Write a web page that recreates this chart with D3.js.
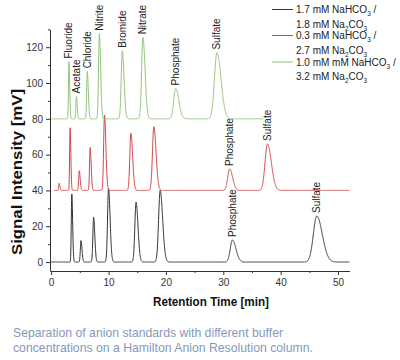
<!DOCTYPE html>
<html>
<head>
<meta charset="utf-8">
<script src="https://cdn.jsdelivr.net/npm/d3@7"></script>
<style>
  body { margin: 0; background: #fff; }
  svg { display: block; font-family: "Liberation Sans", Arial, sans-serif; }
</style>
</head>
<body>
<svg id="chart" width="400" height="360"></svg>
<script>
// peak tables (retention time [min], height [mV], width [min])
const blackTimes   = [3.6, 5.2, 7.4, 10.0, 14.8, 19.0, 31.6, 46.3];
const blackHeights = [38, 12, 25, 41, 33.5, 40, 12.3, 25.7];
const blackWidths  = [0.09, 0.11, 0.13, 0.17, 0.21, 0.27, 0.38, 0.6];

const redTimes   = [1.4, 3.3, 4.9, 6.8, 9.3, 13.9, 17.9, 31.1, 37.7];
const redHeights = [4, 35, 11, 24, 42, 32, 35.6, 12, 26];
const redWidths  = [0.08, 0.08, 0.1, 0.11, 0.15, 0.19, 0.24, 0.33, 0.42];

const greenTimes   = [3.1, 4.4, 6.3, 8.4, 12.4, 16.0, 21.7, 28.9];
const greenHeights = [32, 12.5, 26.5, 47.5, 38, 45.5, 17, 37];
const greenWidths  = [0.08, 0.09, 0.11, 0.14, 0.19, 0.23, 0.34, 0.44];

const baselines = [0, 40, 80];
const runStart  = [0, 0.5, 0];
const runEnd    = [52, 52, 37];

const greenLabels = ['Fluoride', 'Acetate', 'Chloride', 'Nitrite', 'Bromide', 'Nitrate', 'Phosphate', 'Sulfate'];
const redLabels   = [null, null, null, null, null, null, null, 'Phosphate', 'Sulfate'];
const blackLabels = [null, null, null, null, null, null, 'Phosphate', 'Sulfate'];

const legendLine1 = ['1.7 mM NaHCO', '0.3 mM NaHCO', '1.0 mM mM NaHCO'];
const legendLine2 = ['1.8 mM Na', '2.7 mM Na', '3.2 mM Na'];

const xTicks = [0, 10, 20, 30, 40, 50];
const yTicks = [0, 20, 40, 60, 80, 100, 120];

const colors = ['#333333', '#d0464a', '#93c47d'];

const svg = d3.select('#chart');

const x = d3.scaleLinear().domain([-0.2, 52]).range([50, 349.5]);
const y = d3.scaleLinear().domain([-5, 130]).range([271, 29.3]);

const traces = [
  {times: blackTimes, heights: blackHeights, widths: blackWidths, labels: blackLabels},
  {times: redTimes, heights: redHeights, widths: redWidths, labels: redLabels},
  {times: greenTimes, heights: greenHeights, widths: greenWidths, labels: greenLabels}
];

// sum of slightly tailing peaks on top of the trace baseline
function signal(tr, i, t) {
  let v = baselines[i];
  tr.times.forEach((rt, k) => {
    const s = t < rt ? tr.widths[k] : tr.widths[k] * 1.6;
    v += tr.heights[k] * Math.exp(-0.5 * Math.pow((t - rt) / s, 2));
  });
  return v;
}

const line = d3.line().x(d => x(d[0])).y(d => y(d[1]));

traces.forEach((tr, i) => {
  const pts = d3.range(runStart[i], runEnd[i], 0.02).map(t => [t, signal(tr, i, t)]);
  svg.append('path')
    .attr('d', line(pts))
    .attr('fill', 'none')
    .attr('stroke', colors[i])
    .attr('stroke-width', 1);

  tr.labels.forEach((name, k) => {
    if (!name) return;
    const px = x(tr.times[k]) + 3.5;
    const py = y(baselines[i] + tr.heights[k]) - 3;
    svg.append('text')
      .attr('transform', `translate(${px},${py}) rotate(-90)`)
      .attr('font-size', 10)
      .attr('fill', '#222')
      .text(name);
  });
});

// axes
const xAxis = svg.append('g')
  .attr('transform', 'translate(0,271)')
  .call(d3.axisBottom(x).tickValues(xTicks).tickSize(4).tickPadding(4).tickSizeOuter(0));
svg.append('g')
  .attr('transform', 'translate(0,271)')
  .call(d3.axisBottom(x).tickValues([5, 15, 25, 35, 45]).tickSize(2).tickFormat('').tickSizeOuter(0))
  .select('.domain').remove();

const yAxis = svg.append('g')
  .attr('transform', 'translate(50,0)')
  .call(d3.axisLeft(y).tickValues(yTicks).tickSize(4).tickPadding(3).tickSizeOuter(0));
svg.append('g')
  .attr('transform', 'translate(50,0)')
  .call(d3.axisLeft(y).tickValues([10, 30, 50, 70, 90, 110, 130]).tickSize(2).tickFormat('').tickSizeOuter(0))
  .select('.domain').remove();

svg.selectAll('.domain, .tick line').attr('stroke', '#333');
svg.selectAll('.tick text')
  .attr('font-size', 10)
  .attr('fill', '#333')
  .attr('font-family', '"Liberation Sans", Arial, sans-serif');

// axis titles
svg.append('text')
  .attr('transform', 'translate(22,172) rotate(-90)')
  .attr('text-anchor', 'middle')
  .attr('font-size', 15)
  .attr('font-weight', 'bold')
  .attr('fill', '#111')
  .attr('textLength', 166)
  .attr('lengthAdjust', 'spacingAndGlyphs')
  .text('Signal Intensity [mV]');

svg.append('text')
  .attr('x', 211)
  .attr('y', 306)
  .attr('text-anchor', 'middle')
  .attr('font-size', 13)
  .attr('font-weight', 'bold')
  .attr('fill', '#111')
  .attr('textLength', 116)
  .attr('lengthAdjust', 'spacingAndGlyphs')
  .text('Retention Time [min]');

// legend
const legendRows = [9.5, 35.5, 62];
legendRows.forEach((ry, i) => {
  svg.append('line')
    .attr('x1', 272).attr('x2', 293)
    .attr('y1', ry).attr('y2', ry)
    .attr('stroke', colors[i]);

  const t1 = svg.append('text')
    .attr('x', 296).attr('y', ry + 3.5)
    .attr('font-size', 10)
    .attr('fill', '#222');
  t1.append('tspan').text(legendLine1[i]);
  t1.append('tspan').attr('dy', 3).attr('font-size', 6.5).text('3');
  t1.append('tspan').attr('dy', -3).text(' /');

  const t2 = svg.append('text')
    .attr('x', 296).attr('y', ry + 18)
    .attr('font-size', 10)
    .attr('fill', '#222');
  t2.append('tspan').text(legendLine2[i]);
  t2.append('tspan').attr('dy', 3).attr('font-size', 6.5).text('2');
  t2.append('tspan').attr('dy', -3).text('CO');
  t2.append('tspan').attr('dy', 3).attr('font-size', 6.5).text('3');
});

// caption
const caption = ['Separation of anion standards with different buffer',
                 'concentrations on a Hamilton Anion Resolution column.'];
const captionLen = [270, 300];
caption.forEach((c, i) => {
  svg.append('text')
    .attr('x', 13)
    .attr('y', 337 + i * 14.5)
    .attr('font-size', 13)
    .attr('fill', '#8797bd')
    .attr('textLength', captionLen[i])
    .attr('lengthAdjust', 'spacingAndGlyphs')
    .text(c);
});
</script>
</body>
</html>
